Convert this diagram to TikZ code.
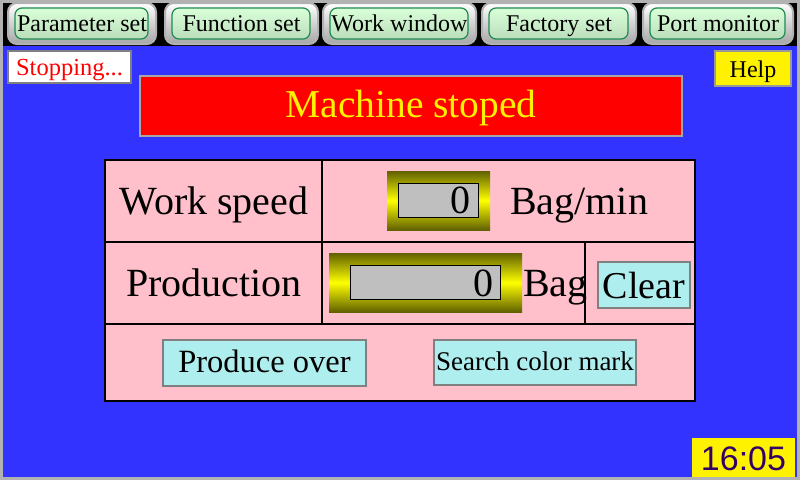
\documentclass[tikz,border=0pt]{standalone}
\usepackage{fontspec}
\setmainfont{Liberation Serif}
\newfontfamily\clockfont{Liberation Sans}
\definecolor{screenblue}{HTML}{3333FF}
\definecolor{cellpink}{HTML}{FFC0CB}
\definecolor{btncyan}{HTML}{AFEEEE}
\definecolor{tabgreen}{HTML}{1E8C50}
\definecolor{fieldgold}{HTML}{8A8A00}
\definecolor{clockink}{HTML}{330066}
\tikzset{
  tabbtn/.style={draw=gray!60, line width=2pt, rounded corners=9pt, top color=white, bottom color=gray!70},
  tabin/.style={draw=tabgreen, line width=1.2pt, rounded corners=7pt, top color=green!15!white, bottom color=green!35!gray!40},
  tabtxt/.style={anchor=base, inner sep=0pt, font=\fontsize{24}{24}\selectfont},
  bigtxt/.style={font=\fontsize{40}{40}\selectfont},
  keybtn/.style={fill=btncyan, draw=gray, line width=2pt},
  fieldin/.style={fill=gray!50, draw=black, line width=0.6pt},
  cellline/.style={line width=1.2pt}
}
\begin{document}
\begin{tikzpicture}[x=1pt,y=-1pt]
\useasboundingbox (0,0) rectangle (800,480);
\fill[gray!60] (0,0) rectangle (800,480); % frame
\fill[black] (3,3) rectangle (797,46); % tab strip
\fill[screenblue] (3,46) rectangle (797,477); % screen

% tab buttons
\foreach \xa/\xb/\lbl in {8/156/Parameter set, 165/318/Function set, 323/476/Work window, 482/636/Factory set, 643/793/Port monitor}{
  \draw[tabbtn] (\xa,3) rectangle (\xb,44);
  \draw[tabin] (\xa+7,8) rectangle (\xb-8,39);
  \node[tabtxt] at ({(\xa+\xb)/2},31) {\lbl};
}

% status boxes
\draw[fill=white, draw=gray, line width=2pt] (8,51) rectangle (131,83);
\node[red, anchor=base, font=\fontsize{24.5}{24.5}\selectfont] (status) at (69.5,75) {Stopping...};
\draw[fill=yellow, draw=gray!80, line width=2pt] (715,51) rectangle (791,86);
\node[anchor=base, font=\fontsize{24}{24}\selectfont] (help) at (753,77) {Help};

% banner
\draw[fill=red, draw=gray!70, line width=2pt] (140,76) rectangle (682,136);
\node[yellow, anchor=base, font=\fontsize{39.5}{39.5}\selectfont] (banner) at (411,117) {Machine stoped};

% table
\draw[cellline, fill=cellpink] (105,160) rectangle (695,401);
\draw[cellline] (105,242) -- (695,242) (105,324) -- (695,324);
\draw[cellline] (322,160) -- (322,324) (585,242) -- (585,324);
\node[bigtxt, anchor=base] (speedlbl) at (214,214) {Work speed};
\node[bigtxt, anchor=base] (prodlbl) at (214,296) {Production};

% speed field
\shade[top color=fieldgold!70!black, bottom color=fieldgold!70!black, middle color=yellow] (387,171) rectangle (490,230);
\draw[fieldin] (398,183) rectangle (478,217);
\node[bigtxt, anchor=base east, inner sep=0pt] (speedval) at (471,213) {0};
\node[bigtxt, anchor=base west, inner sep=0pt] (speedunit) at (510,214) {Bag/min};

% production field
\shade[top color=fieldgold!70!black, bottom color=fieldgold!70!black, middle color=yellow] (329,253) rectangle (522,312);
\draw[fieldin] (350,265) rectangle (500,299);
\node[bigtxt, anchor=base east, inner sep=0pt] (prodval) at (494,296) {0};
\node[bigtxt, anchor=base west, inner sep=0pt] (produnit) at (523,296) {Bag};

% buttons
\draw[keybtn] (598,262) rectangle (690,308);
\node[anchor=base, font=\fontsize{38}{38}\selectfont] (clear) at (644,298) {Clear};
\draw[keybtn] (163,340) rectangle (366,386);
\node[anchor=base, font=\fontsize{32.5}{32.5}\selectfont] (over) at (264.5,372) {Produce over};
\draw[keybtn] (434,340) rectangle (636,385);
\node[anchor=base, font=\fontsize{27}{27}\selectfont] (search) at (535,370) {Search color mark};

% clock
\fill[yellow] (692,438) rectangle (795,477);
\node[clockink, anchor=base, font=\clockfont\fontsize{34}{34}\selectfont] (clock) at (743.5,470) {16:05};
\end{tikzpicture}
\end{document}
